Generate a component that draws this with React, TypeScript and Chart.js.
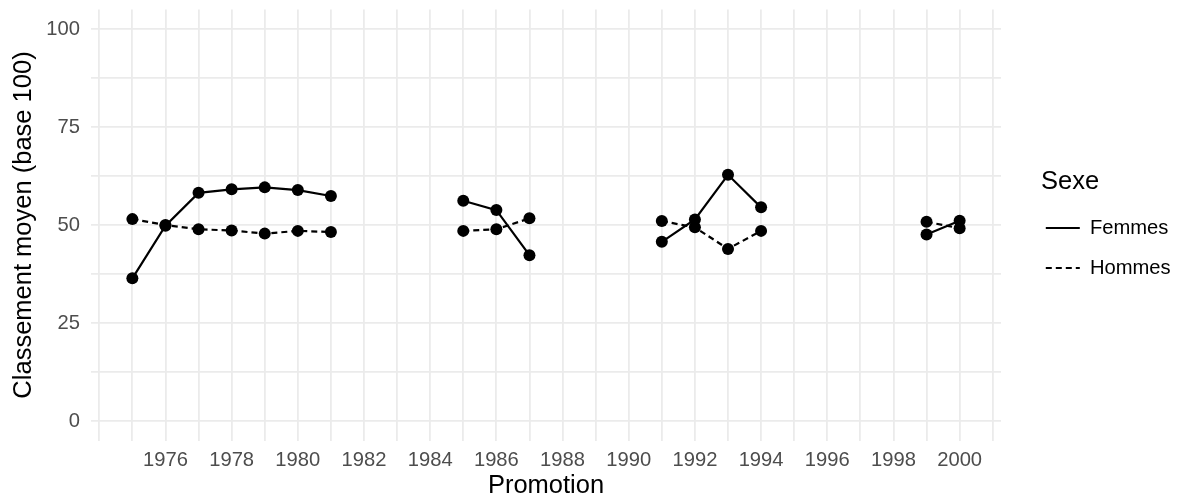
import React, { useEffect, useRef } from 'react';
import { Chart, registerables } from 'chart.js';

Chart.register(...registerables);

// ---- Data ----
const years = [
  1975, 1976, 1977, 1978, 1979, 1980, 1981, 1982, 1983, 1984, 1985, 1986, 1987,
  1988, 1989, 1990, 1991, 1992, 1993, 1994, 1995, 1996, 1997, 1998, 1999, 2000,
];
const femmes: (number | null)[] = [
  36.4, 49.8, 58.2, 59.1, 59.6, 58.9, 57.4, null, null, null, 56.2, 53.8, 42.3,
  null, null, null, 45.7, 51.4, 62.8, 54.5, null, null, null, null, 47.6, 51.1,
];
const hommes: (number | null)[] = [
  51.5, 50.0, 48.9, 48.6, 47.8, 48.5, 48.2, null, null, null, 48.5, 48.9, 51.7,
  null, null, null, 51.0, 49.4, 43.9, 48.5, null, null, null, null, 50.8, 49.2,
];

// ---- Axis ticks ----
const xGridYears = [
  1974, 1975, 1976, 1977, 1978, 1979, 1980, 1981, 1982, 1983, 1984, 1985, 1986,
  1987, 1988, 1989, 1990, 1991, 1992, 1993, 1994, 1995, 1996, 1997, 1998, 1999,
  2000, 2001,
];
const xLabelYears = [1976, 1978, 1980, 1982, 1984, 1986, 1988, 1990, 1992, 1994, 1996, 1998, 2000];
const yGridValues = [0, 12.5, 25, 37.5, 50, 62.5, 75, 87.5, 100];
const yLabelValues = [0, 25, 50, 75, 100];

const FONT = "'Liberation Sans', Arial, Helvetica, sans-serif";
const TICK_COLOR = '#4d4d4d';
const GRID_COLOR = '#ebebeb';
const TEXT_SIZE = 20.2;
const TITLE_SIZE = 25.5;

const W = 1178;
const H = 498;
const PLOT_LEFT = 91;
const PLOT_RIGHT = 1001;
const PLOT_TOP = 9.4;
const PLOT_BOTTOM = 440.6;

const legendFix = {
  id: 'legendFix',
  beforeLayout(chart: any) {
    const lg = chart.legend;
    if (lg && !lg.__patched) {
      const orig = lg.fit.bind(lg);
      lg.fit = function () {
        orig();
        this.width = W - PLOT_RIGHT;
      };
      lg.draw = function () {
        if (this.options.display) this._draw();
      };
      lg.__patched = true;
    }
  },
  afterLayout(chart: any) {
    const lg = chart.legend;
    if (lg) {
      lg.left = 1026;
      lg.width = 88;
      lg.right = lg.left + lg.width;
      lg.top = PLOT_TOP + 2;
      lg.bottom = PLOT_BOTTOM + 2;
      lg.height = lg.bottom - lg.top;
    }
  },
};

export default function App() {
  const ref = useRef<HTMLCanvasElement | null>(null);

  useEffect(() => {
    if (!ref.current) return;
    const chart = new Chart(ref.current, {
      type: 'line',
      data: {
        datasets: [
          {
            label: 'Femmes',
            data: years.map((x, i) => ({ x, y: femmes[i] })) as any,
            borderColor: '#000000',
            backgroundColor: '#000000',
            borderWidth: 2.2,
            pointRadius: 6,
            pointBorderWidth: 0,
            pointBackgroundColor: '#000000',
            spanGaps: false,
            tension: 0,
          },
          {
            label: 'Hommes',
            data: years.map((x, i) => ({ x, y: hommes[i] })) as any,
            borderColor: '#000000',
            backgroundColor: '#000000',
            borderWidth: 2.2,
            borderDash: [6, 4],
            pointRadius: 6,
            pointBorderWidth: 0,
            pointBackgroundColor: '#000000',
            spanGaps: false,
            tension: 0,
          },
        ],
      },
      options: {
        responsive: false,
        animation: false,
        devicePixelRatio: 1,
        layout: { padding: { top: PLOT_TOP, left: 0, right: 0, bottom: 0 } },
        plugins: {
          tooltip: { enabled: false },
          legend: {
            position: 'right',
            align: 'center',
            labels: {
              usePointStyle: true,
              pointStyle: 'line',
              pointStyleWidth: 34,
              padding: 19.8,
              color: '#000000',
              font: { family: FONT, size: TEXT_SIZE },
              generateLabels: (c: any) =>
                c.data.datasets.map((ds: any, i: number) => ({
                  text: ds.label,
                  fillStyle: '#000000',
                  strokeStyle: '#000000',
                  fontColor: '#000000',
                  lineWidth: 2.2,
                  lineDash: ds.borderDash || [],
                  lineCap: 'butt',
                  pointStyle: 'line',
                  hidden: false,
                  datasetIndex: i,
                })),
            },
            title: {
              display: true,
              text: 'Sexe',
              position: 'center',
              color: '#000000',
              font: { family: FONT, size: TITLE_SIZE, lineHeight: 1 },
              padding: { top: 13.15, bottom: 3.35 },
            },
          } as any,
        },
        scales: {
          x: {
            type: 'linear',
            min: 1973.75,
            max: 2001.25,
            border: { display: false },
            grid: { color: GRID_COLOR, lineWidth: 1.8, drawTicks: false },
            afterBuildTicks: (scale: any) => {
              scale.ticks = xGridYears.map((v) => ({ value: v }));
            },
            afterFit: (scale: any) => {
              scale.height = H - PLOT_BOTTOM;
              scale.paddingLeft = 0;
              scale.paddingRight = 0;
            },
            ticks: {
              autoSkip: false,
              maxRotation: 0,
              padding: 7.8,
              color: TICK_COLOR,
              font: { family: FONT, size: TEXT_SIZE },
              callback: (v: any) => (xLabelYears.includes(Number(v)) ? String(v) : ''),
            },
            title: {
              display: true,
              text: 'Promotion',
              color: '#000000',
              font: { family: FONT, size: TITLE_SIZE, lineHeight: 1 },
              padding: { top: 0, bottom: -0.75 },
            },
          },
          y: {
            type: 'linear',
            min: -5,
            max: 105,
            border: { display: false },
            grid: { color: GRID_COLOR, lineWidth: 1.8, drawTicks: false },
            afterBuildTicks: (scale: any) => {
              scale.ticks = yGridValues.map((v) => ({ value: v }));
            },
            afterFit: (scale: any) => {
              scale.width = PLOT_LEFT;
              scale.paddingTop = 0;
              scale.paddingBottom = 0;
            },
            ticks: {
              padding: 11,
              color: TICK_COLOR,
              font: { family: FONT, size: TEXT_SIZE },
              callback: (v: any) => (yLabelValues.includes(Number(v)) ? String(v) : ''),
            },
            title: {
              display: true,
              text: 'Classement moyen (base 100)',
              color: '#000000',
              font: { family: FONT, size: TITLE_SIZE },
              padding: { top: 8.7, bottom: 0 },
            },
          },
        },
      },
      plugins: [legendFix],
    });
    return () => chart.destroy();
  }, []);

  return (
    <div style={{ position: 'absolute', left: 0, top: 0, width: W, height: H, background: '#ffffff' }}>
      <canvas ref={ref} width={W} height={H} style={{ width: W, height: H, display: 'block' }} />
    </div>
  );
}
